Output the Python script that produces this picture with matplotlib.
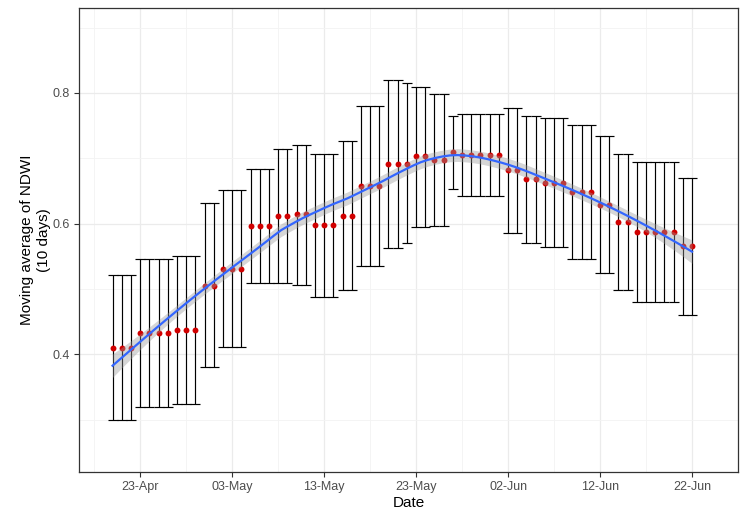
import numpy as np
import pandas as pd
import matplotlib
matplotlib.use("Agg")
import matplotlib.pyplot as plt
import matplotlib.dates as mdates

# daily moving average of NDWI (10 days), 20-Apr to 22-Jun
start = "2020-04-20"
ndwi_mean = [0.410, 0.410, 0.410,
             0.433, 0.433, 0.433, 0.433,
             0.437, 0.437, 0.437,
             0.505, 0.505,
             0.531, 0.531, 0.531,
             0.597, 0.597, 0.597,
             0.611, 0.611,
             0.615, 0.615,
             0.598, 0.598, 0.598,
             0.612, 0.612,
             0.657, 0.657, 0.657,
             0.691, 0.691, 0.691,
             0.703, 0.703,
             0.698, 0.698,
             0.709,
             0.705, 0.705, 0.705, 0.705, 0.705,
             0.682, 0.682,
             0.668, 0.668,
             0.662, 0.662, 0.662,
             0.649, 0.649, 0.649,
             0.628, 0.628,
             0.603, 0.603,
             0.587, 0.587, 0.587, 0.587, 0.587,
             0.566, 0.566]
ndwi_low = [0.300, 0.300, 0.300,
            0.319, 0.319, 0.319, 0.319,
            0.324, 0.324, 0.324,
            0.380, 0.380,
            0.411, 0.411, 0.411,
            0.509, 0.509, 0.509,
            0.509, 0.509,
            0.506, 0.506,
            0.488, 0.488, 0.488,
            0.498, 0.498,
            0.535, 0.535, 0.535,
            0.562, 0.562, 0.571,
            0.595, 0.595,
            0.596, 0.596,
            0.653,
            0.642, 0.642, 0.642, 0.642, 0.642,
            0.586, 0.586,
            0.571, 0.571,
            0.565, 0.565, 0.565,
            0.546, 0.546, 0.546,
            0.525, 0.525,
            0.498, 0.498,
            0.480, 0.480, 0.480, 0.480, 0.480,
            0.460, 0.460]
ndwi_high = [0.522, 0.522, 0.522,
             0.546, 0.546, 0.546, 0.546,
             0.550, 0.550, 0.550,
             0.632, 0.632,
             0.651, 0.651, 0.651,
             0.684, 0.684, 0.684,
             0.714, 0.714,
             0.720, 0.720,
             0.707, 0.707, 0.707,
             0.726, 0.726,
             0.780, 0.780, 0.780,
             0.820, 0.820, 0.815,
             0.809, 0.809,
             0.798, 0.798,
             0.764,
             0.768, 0.768, 0.768, 0.768, 0.768,
             0.777, 0.777,
             0.764, 0.764,
             0.761, 0.761, 0.761,
             0.751, 0.751, 0.751,
             0.734, 0.734,
             0.707, 0.707,
             0.694, 0.694, 0.694, 0.694, 0.694,
             0.670, 0.670]


def loess(x, y, xs, span=0.75):
    """Local quadratic fit (tricube weights), returns fit and smoother rows."""
    n = len(x)
    q = int(np.floor(n * span))
    rows = []
    for x0 in xs:
        d = np.abs(x - x0)
        h = np.sort(d)[q - 1]
        w = np.clip(1 - (d / h) ** 3, 0, None) ** 3
        X = np.column_stack([np.ones(n), x - x0, (x - x0) ** 2])
        XtW = X.T * w
        rows.append(np.linalg.solve(XtW @ X, XtW)[0])
    L = np.array(rows)
    return L @ y, L


dates = pd.date_range(start, periods=len(ndwi_mean), freq="D")
mean = np.array(ndwi_mean)
x = mdates.date2num(dates)

# smooth + standard error band, like geom_smooth(method="loess")
SPAN = 0.6
fit_pts, L_pts = loess(x, mean, x, SPAN)
resid = mean - fit_pts
IL = np.eye(len(x)) - L_pts
delta1 = np.trace(IL.T @ IL)
sigma = np.sqrt(np.sum(resid ** 2) / delta1)
xs = np.linspace(x.min(), x.max(), 80)
fit, L = loess(x, mean, xs, SPAN)
se = sigma * np.sqrt(np.sum(L ** 2, axis=1))
band = 1.99 * se

plt.rcParams["font.family"] = ["Liberation Sans", "DejaVu Sans"]
fig = plt.figure(figsize=(7.43, 5.12), dpi=100)
ax = fig.add_axes([79 / 743, 40 / 512, 659 / 743, 464 / 512])

ax.errorbar(dates, mean,
            yerr=[mean - np.array(ndwi_low), np.array(ndwi_high) - mean],
            fmt="none", ecolor="black", elinewidth=0.85, capsize=3.3,
            capthick=0.85, zorder=3)
ax.scatter(dates, mean, s=18, color="#D10000", zorder=4, linewidths=0)
ax.fill_between(mdates.num2date(xs), fit - band, fit + band,
                color="#999999", alpha=0.4, linewidth=0, zorder=5)
ax.plot(mdates.num2date(xs), fit, color="#3366FF", lw=1.6, zorder=6)

pad = 3.65
ax.set_xlim(x.min() - pad, x.max() + pad)
ax.set_ylim(0.220, 0.930)

ax.set_yticks([0.4, 0.6, 0.8])
ax.set_yticks([0.3, 0.5, 0.7, 0.9], minor=True)
ax.set_yticklabels(["0.4", "0.6", "0.8"])
major = pd.date_range("2020-04-23", "2020-06-22", freq="10D")
minor = pd.date_range("2020-04-18", "2020-06-27", freq="10D")
ax.set_xticks(mdates.date2num(major))
ax.set_xticks(mdates.date2num(minor), minor=True)
ax.xaxis.set_major_formatter(mdates.DateFormatter("%d-%b"))

ax.grid(True, which="major", color="#EBEBEB", lw=0.9)
ax.grid(True, which="minor", color="#F3F3F3", lw=0.6)
ax.set_axisbelow(True)
ax.tick_params(which="major", length=3.5, width=0.8, color="#333333",
               labelsize=9, labelcolor="#4D4D4D", pad=3)
ax.tick_params(which="minor", length=0)
for s in ax.spines.values():
    s.set_color("#333333")
    s.set_linewidth(0.9)

ax.set_xlabel("Date", fontsize=11, labelpad=2)
ax.set_ylabel("Moving average of NDWI\n(10 days)", fontsize=11,
              labelpad=1, linespacing=1.3)

fig.savefig("out.png", dpi=100)
